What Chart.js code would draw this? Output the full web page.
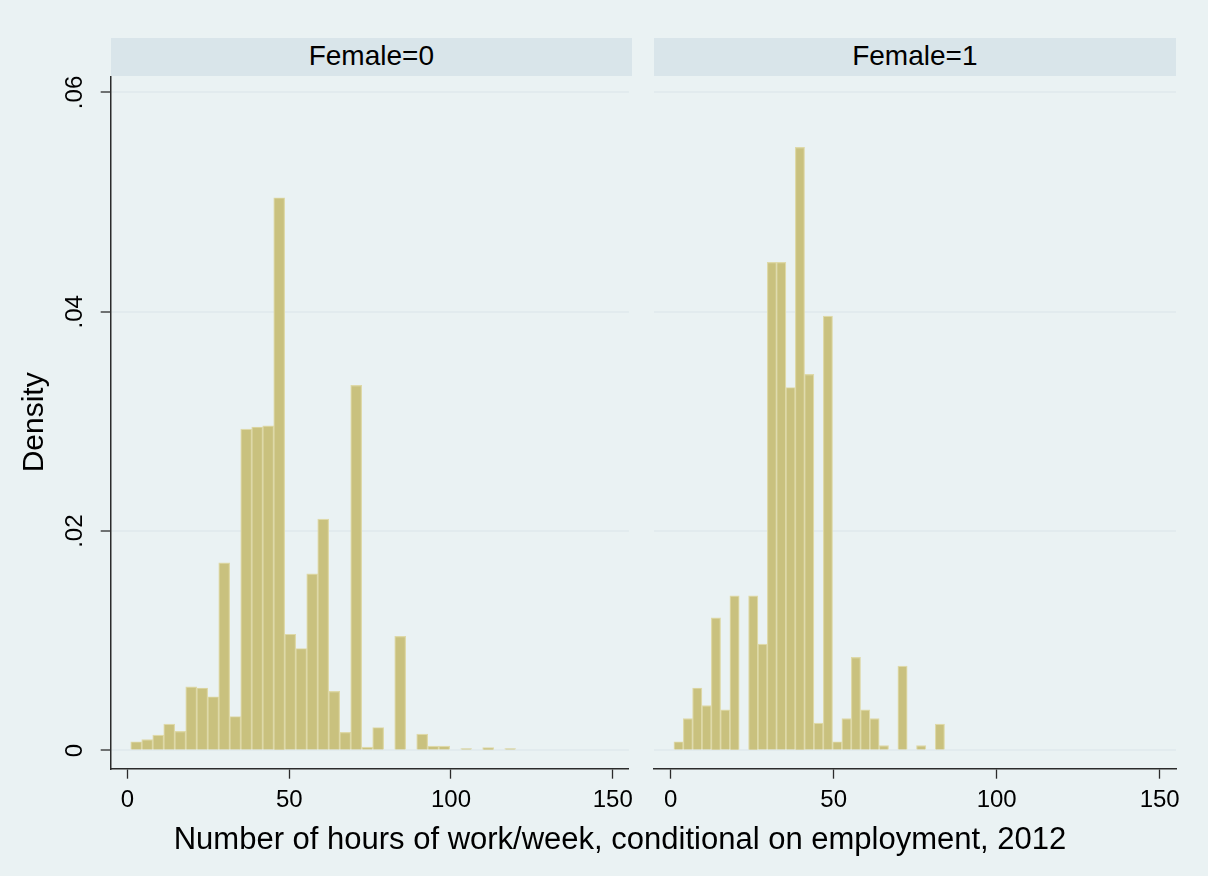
<!DOCTYPE html>
<html>
<head>
<meta charset="utf-8">
<script src="https://cdn.jsdelivr.net/npm/chart.js@4/dist/chart.umd.min.js"></script>
<style>
  body { margin: 0; background: #EAF2F3; font-family: "Liberation Sans", Arial, sans-serif; }
  #page { position: relative; width: 1208px; height: 876px; overflow: hidden; }
  .strip { position: absolute; top: 38.3px; height: 37.7px; background: #D9E5EA; color: #000;
           font-size: 28px; line-height: 35px; text-align: center; }
  canvas { position: absolute; }
  #xtitle { position: absolute; left: 0; width: 1240px; top: 822px; font-size: 31px; line-height: 34px;
            text-align: center; color: #000; white-space: nowrap; }
</style>
</head>
<body>
<div id="page">
  <div class="strip" id="strip0" style="left:110.7px; width:521.3px;"></div>
  <div class="strip" id="strip1" style="left:653.7px; width:522.3px;"></div>
  <canvas id="panelMale" width="640" height="800" style="left:0px; top:76px; width:640px; height:800px;"></canvas>
  <canvas id="panelFemale" width="568" height="800" style="left:640px; top:76px; width:568px; height:800px;"></canvas>
  <div id="xtitle"></div>
</div>
<script>
const panelTitles = ["Female=0", "Female=1"];
const xTitle = "Number of hours of work/week, conditional on employment, 2012";
const yTitle = "Density";
const xTicks = [0, 50, 100, 150];
const xTickLabels = ["0", "50", "100", "150"];
const yTicks = [0, 0.02, 0.04, 0.06];
const yTickLabels = ["0", ".02", ".04", ".06"];

// bin midpoints (hours) and densities, Female=0 (35 bins of 3.4h from 1)
const maleMids = [2.7, 6.1, 9.5, 12.9, 16.3, 19.7, 23.1, 26.5, 29.9, 33.3, 36.7, 40.1,
    43.5, 46.9, 50.3, 53.7, 57.1, 60.5, 63.9, 67.3, 70.7, 74.1, 77.5, 80.9, 84.3, 87.7,
    91.1, 94.5, 97.9, 101.3, 104.7, 108.1, 111.5, 114.9, 118.3];
const maleDensity = [0.0008, 0.001, 0.0014, 0.0024, 0.00175, 0.0058, 0.0057, 0.0049, 0.0171,
    0.0031, 0.0293, 0.0295, 0.0296, 0.0504, 0.0106, 0.0093, 0.0161, 0.0211, 0.0054, 0.00165,
    0.0333, 0.0003, 0.0021, 0, 0.0104, 0, 0.0015, 0.0004, 0.0004, 0, 0.00017, 0, 0.00027, 0, 0.00017];

// Female=1 (29 bins of ~2.86h from 1)
const femaleMids = [2.43, 5.29, 8.16, 11.02, 13.88, 16.74, 19.6, 22.47, 25.33, 28.19, 31.05,
    33.91, 36.78, 39.64, 42.5, 45.36, 48.22, 51.09, 53.95, 56.81, 59.67, 62.53, 65.4, 68.26,
    71.12, 73.98, 76.84, 79.71, 82.57];
const femaleDensity = [0.0008, 0.0029, 0.0057, 0.0041, 0.0121, 0.0037, 0.0141, 0, 0.0141,
    0.0097, 0.0445, 0.0445, 0.0331, 0.055, 0.0343, 0.0025, 0.0396, 0.0008, 0.0029, 0.0085,
    0.0037, 0.0029, 0.00045, 0, 0.0077, 0, 0.00045, 0, 0.0024];

const fontFamily = '"Liberation Sans", Arial, sans-serif';
const barFill = "rgb(201,193,126)";
const barEdge = "rgb(222,217,168)";
const axisColor = "#2b2b2b";
const gridColor = "#E2EBEE";

document.getElementById("strip0").innerText = panelTitles[0];
document.getElementById("strip1").innerText = panelTitles[1];
document.getElementById("xtitle").innerText = xTitle;

// y labels in Stata are turned sideways, draw them off the y scale
const sideYLabels = {
    id: "sideYLabels",
    afterDraw: function(chart) {
        const ctx = chart.ctx;
        const scale = chart.scales.y;
        ctx.save();
        ctx.font = "24px " + fontFamily;
        ctx.fillStyle = "#000";
        ctx.textAlign = "center";
        ctx.textBaseline = "middle";
        for (let i = 0; i < yTicks.length; i++) {
            const py = scale.getPixelForValue(yTicks[i]);
            ctx.save();
            ctx.translate(75, py);
            ctx.rotate(-Math.PI / 2);
            ctx.fillText(yTickLabels[i], 0, 0);
            ctx.restore();
        }
        ctx.restore();
    }
};

function CreatePanel(canvasId, mids, density, showY, padding) {
    const points = [];
    for (let i = 0; i < mids.length; i++) {
        points.push({ x: mids[i], y: density[i] });
    }

    return new Chart(document.getElementById(canvasId), {
        type: "bar",
        data: {
            datasets: [{
                data: points,
                backgroundColor: barFill,
                borderColor: barEdge,
                borderWidth: 1.2,
                barPercentage: 1,
                categoryPercentage: 1
            }]
        },
        options: {
            responsive: false,
            animation: false,
            layout: { padding: padding },
            plugins: { legend: { display: false }, tooltip: { enabled: false } },
            scales: {
                x: {
                    type: "linear",
                    min: -5.2,
                    max: 155,
                    offset: false,
                    grid: { offset: false, drawOnChartArea: false, tickLength: 10, tickColor: axisColor, tickWidth: 1.3 },
                    border: { display: true, color: axisColor, width: 1.5 },
                    ticks: {
                        color: "#000",
                        font: { size: 24, family: fontFamily },
                        padding: 7,
                        maxRotation: 0,
                        callback: function(value, index) { return xTickLabels[index]; }
                    },
                    afterBuildTicks: function(axis) { axis.ticks = xTicks.map(v => ({ value: v })); },
                    afterFit: function(axis) { axis.height = 60; }
                },
                y: {
                    min: -0.00166,
                    max: 0.0615,
                    grid: { color: gridColor, lineWidth: 2, drawTicks: showY, tickLength: 10,
                            tickColor: axisColor, tickWidth: 1.3 },
                    border: { display: showY, color: axisColor, width: 1.5 },
                    ticks: { display: false },
                    title: {
                        display: showY,
                        text: yTitle,
                        color: "#000",
                        font: { size: 30, family: fontFamily },
                        padding: { top: 17, bottom: 0 }
                    },
                    afterBuildTicks: function(axis) { axis.ticks = yTicks.map(v => ({ value: v })); },
                    afterFit: function(axis) { axis.width = showY ? 110.7 : 0; }
                }
            }
        },
        plugins: showY ? [sideYLabels] : []
    });
}

CreatePanel("panelMale", maleMids, maleDensity, true, { top: 0, left: 0, right: 8, bottom: 47.3 });
CreatePanel("panelFemale", femaleMids, femaleDensity, false, { top: 0, left: 13.7, right: 32, bottom: 47.3 });
</script>
</body>
</html>
